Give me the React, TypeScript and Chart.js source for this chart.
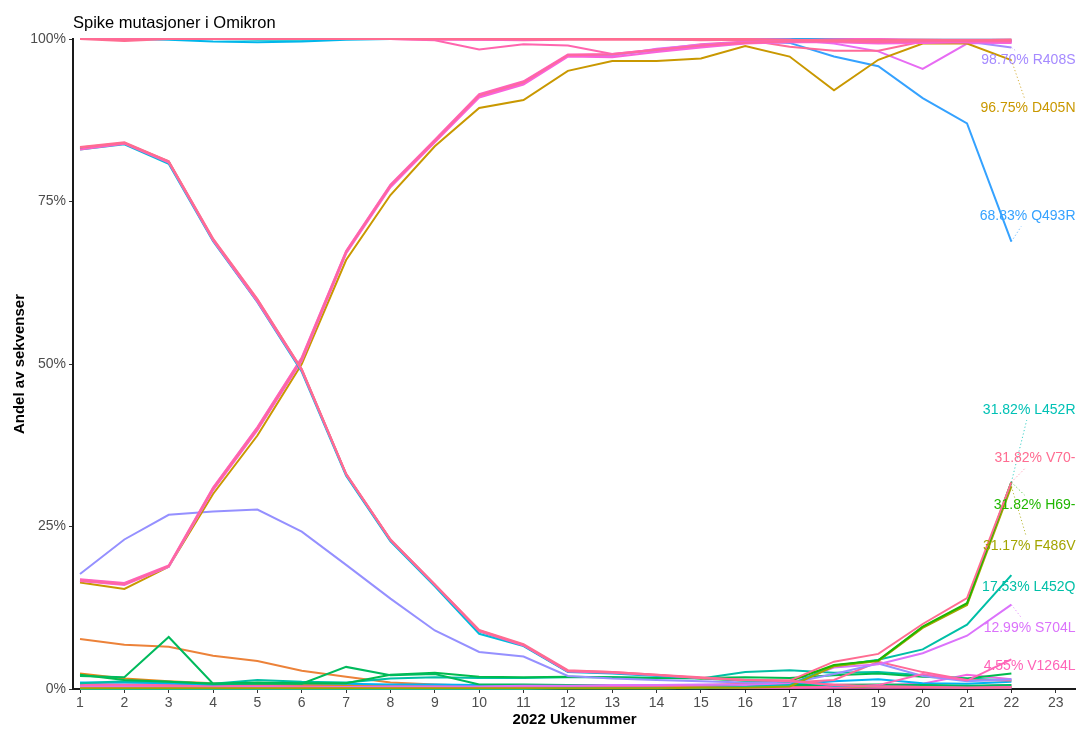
import React, { useEffect, useRef } from "react";
import { Chart, registerables } from "chart.js";

Chart.register(...registerables);

const FONT = '"Liberation Sans", Arial, Helvetica, sans-serif';

const titleText = "Spike mutasjoner i Omikron";
const xTitle = "2022 Ukenummer";
const yTitle = "Andel av sekvenser";

const weeks = [1, 2, 3, 4, 5, 6, 7, 8, 9, 10, 11, 12, 13, 14, 15, 16, 17, 18, 19, 20, 21, 22];
const xTicks = [1, 2, 3, 4, 5, 6, 7, 8, 9, 10, 11, 12, 13, 14, 15, 16, 17, 18, 19, 20, 21, 22, 23];
const yTicks = [0, 25, 50, 75, 100];

// low-level mutations
const v1228l = [0.2, 0.2, 0.2, 0.2, 0.2, 0.2, 0.2, 0.2, 0.2, 0.2, 0.2, 0.2, 0.2, 0.2, 0.2, 0.2, 0.2, 0.2, 0.2, 0.2, 0.2, 0.2];
const v1176f = [0.6, 0.5, 0.5, 0.4, 0.4, 0.4, 0.4, 0.4, 0.3, 0.3, 0.3, 0.3, 0.3, 0.3, 0.3, 0.3, 0.3, 0.3, 0.3, 0.3, 0.3, 0.3];
const v16f = [0.8, 0.7, 0.7, 0.6, 0.6, 0.5, 0.5, 0.5, 0.5, 0.4, 0.4, 0.5, 0.6, 0.6, 0.5, 0.5, 0.6, 0.7, 0.6, 0.5, 0.4, 0.6];
const t572i = [0.4, 0.4, 0.3, 0.3, 0.3, 0.4, 0.4, 0.5, 0.5, 0.6, 0.5, 0.5, 0.5, 0.5, 0.5, 0.4, 0.4, 0.5, 0.6, 0.8, 2.2, 1.5];
const p1162s = [2.4, 1.6, 1.2, 0.9, 0.8, 0.7, 0.6, 0.6, 0.5, 0.5, 0.5, 0.5, 0.5, 0.5, 0.4, 0.4, 0.4, 0.5, 0.5, 0.6, 0.4, 0.4];
const a701v = [7.7, 6.8, 6.5, 5.1, 4.3, 2.8, 1.9, 1.0, 0.7, 0.5, 0.5, 0.4, 0.4, 0.4, 0.3, 0.3, 0.3, 0.4, 0.3, 0.3, 0.2, 0.3];
const a1087s = [1.0, 1.0, 0.9, 0.7, 0.9, 0.9, 0.8, 0.7, 0.7, 0.6, 0.6, 0.6, 0.6, 0.6, 0.6, 0.7, 0.7, 1.2, 1.5, 0.9, 0.8, 1.1];
const k1191n = [0.9, 1.2, 1.1, 0.8, 1.4, 1.1, 1.0, 1.6, 1.8, 1.7, 1.7, 1.8, 1.8, 1.7, 1.6, 2.6, 2.9, 2.5, 2.6, 2.1, 1.6, 1.3];
const m153t = [2.2, 1.4, 1.1, 0.8, 1.0, 0.9, 0.9, 2.2, 2.5, 1.9, 1.8, 1.9, 1.8, 1.7, 1.7, 1.8, 1.7, 2.1, 2.4, 1.9, 1.6, 2.4];
const i210t = [2.0, 1.8, 8.0, 0.8, 0.8, 0.8, 3.4, 2.1, 2.3, 0.7, 0.7, 0.6, 0.6, 0.6, 0.6, 0.6, 0.6, 0.6, 0.7, 0.6, 0.5, 0.6];
const p1143l = [0.3, 0.3, 0.3, 0.3, 0.3, 0.3, 0.3, 0.3, 0.3, 0.3, 0.4, 0.4, 0.4, 0.5, 0.6, 0.8, 1.0, 1.4, 4.2, 2.6, 1.4, 1.3];
const r346k = [17.7, 23.0, 26.8, 27.3, 27.6, 24.2, 19.1, 13.9, 9.0, 5.7, 5.0, 2.0, 1.6, 1.4, 1.2, 1.0, 0.9, 2.3, 3.9, 2.0, 1.2, 1.5];

// near-fixed mutations
const e484a = [100, 100, 100, 100, 99.9, 99.9, 100, 100, 100, 100, 100, 100, 100, 100, 100, 100, 99.9, 99.9, 99.9, 99.9, 99.9, 99.9];
const k417n = [100, 100, 100, 100, 100, 100, 100, 100, 100, 99.9, 99.8, 99.9, 99.9, 99.9, 99.9, 100, 100, 99.9, 99.9, 99.8, 99.8, 99.9];
const n440k = [100, 100, 100, 100, 100, 100, 100, 100, 99.9, 99.9, 99.9, 100, 100, 100, 100, 100, 100, 100, 100, 99.9, 99.9, 99.9];
const g339d = [100, 100, 99.9, 99.6, 99.5, 99.6, 99.9, 100, 100, 100, 100, 100, 100, 100, 99.9, 100, 100, 99.9, 99.8, 99.8, 99.7, 99.6];
const n679k = [100, 100, 100, 100, 100, 100, 100, 100, 100, 100, 100, 100, 100, 100, 100, 100, 100, 99.8, 99.8, 99.8, 99.7, 99.7];
const p681h = [100, 100, 100, 100, 100, 100, 100, 100, 100, 100, 100, 100, 100, 100, 100, 99.9, 99.9, 99.6, 99.7, 99.7, 99.6, 99.4];
const q498r = [100, 99.7, 100, 100, 100, 100, 100, 100, 100, 100, 100, 100, 100, 100, 100, 100, 99.9, 99.8, 99.8, 99.9, 99.8, 99.9];
const s477n = [100, 100, 100, 100, 100, 100, 100, 100, 99.8, 98.4, 99.2, 99.0, 97.7, 98.4, 99.2, 99.6, 99.8, 99.8, 99.8, 99.7, 99.8, 99.7];
const t478k = [100, 100, 100, 100, 100, 100, 100, 100, 100, 100, 100, 100, 100, 100, 100, 100, 99.9, 99.3, 98.1, 95.4, 99.3, 99.5];
const y505h = [100, 100, 100, 100, 100, 100, 100, 100, 100, 100, 100, 100, 100, 100, 99.8, 99.9, 98.8, 98.2, 98.2, 99.6, 99.8, 99.6];
const q493r = [100, 100, 100, 100, 100, 100, 100, 100, 100, 100, 100, 100, 100, 100, 100, 99.9, 99.4, 97.3, 95.8, 90.9, 87.0, 68.83];

// BA.2 rising
const d405n = [16.4, 15.4, 18.8, 30.0, 39.0, 50.0, 66.0, 76.0, 83.5, 89.4, 90.6, 95.1, 96.6, 96.6, 97.0, 98.9, 97.3, 92.1, 96.8, 99.3, 99.3, 96.75];
const s371f = [16.8, 16.2, 18.9, 30.9, 40.2, 50.9, 67.3, 77.5, 84.4, 91.4, 93.4, 97.5, 97.4, 98.5, 99.1, 99.5, 99.6, 99.7, 99.6, 99.7, 99.7, 99.6];
const r408s = [16.7, 16.1, 18.8, 30.7, 39.9, 50.6, 67.1, 77.3, 84.2, 91.2, 93.2, 97.4, 97.6, 98.2, 98.9, 99.4, 99.5, 99.6, 99.4, 99.5, 99.6, 98.7];
const t376a = [16.6, 16.0, 18.8, 30.6, 39.8, 50.5, 67.0, 77.2, 84.1, 91.0, 93.0, 97.3, 97.2, 98.0, 98.7, 99.3, 99.5, 99.5, 99.3, 99.4, 99.5, 99.4];
const t19i = [16.9, 16.3, 19.0, 31.0, 40.3, 51.0, 67.4, 77.6, 84.5, 91.5, 93.5, 97.6, 97.7, 98.4, 99.0, 99.5, 99.6, 99.7, 99.6, 99.7, 99.8, 99.7];
const v213g = [16.7, 16.1, 18.9, 30.8, 40.0, 50.7, 67.2, 77.4, 84.3, 91.3, 93.3, 97.5, 97.6, 98.3, 99.0, 99.4, 99.6, 99.6, 99.5, 99.6, 99.7, 99.6];

// BA.4/5 rising at the end
const l452q = [0.1, 0.1, 0.1, 0.1, 0.1, 0.1, 0.1, 0.1, 0.1, 0.1, 0.1, 0.1, 0.1, 0.1, 0.2, 0.3, 0.5, 3.5, 4.5, 6.1, 9.9, 17.53];
const s704l = [0.3, 0.3, 0.2, 0.2, 0.3, 0.2, 0.3, 0.4, 0.4, 0.4, 0.5, 0.5, 0.6, 0.6, 0.7, 0.6, 0.8, 3.3, 3.8, 5.5, 8.2, 12.99];
const v1264l = [0.2, 0.2, 0.2, 0.2, 0.2, 0.2, 0.2, 0.2, 0.2, 0.2, 0.2, 0.2, 0.2, 0.2, 0.2, 0.2, 0.2, 0.3, 0.6, 2.3, 1.3, 4.55];
const l452r = [0.0, 0.0, 0.0, 0.0, 0.0, 0.0, 0.0, 0.0, 0.0, 0.0, 0.0, 0.1, 0.1, 0.1, 0.1, 0.3, 0.6, 3.6, 4.4, 9.5, 13.1, 31.82];
const f486v = [0.1, 0.1, 0.1, 0.1, 0.1, 0.1, 0.1, 0.1, 0.1, 0.1, 0.1, 0.1, 0.1, 0.1, 0.2, 0.2, 0.4, 3.5, 4.3, 9.4, 12.9, 31.17];

// BA.1 falling
const h69del = [83.2, 84.0, 81.1, 69.1, 59.8, 49.1, 33.0, 22.9, 16.0, 8.9, 6.7, 2.7, 2.5, 2.1, 1.6, 1.3, 1.2, 3.7, 4.4, 9.6, 13.2, 31.82];
const g446s = [83.0, 83.8, 80.8, 68.9, 59.5, 48.8, 32.8, 22.7, 15.8, 8.5, 6.6, 2.6, 2.4, 2.0, 1.7, 1.3, 1.2, 0.5, 0.4, 0.3, 0.2, 0.2];
const t95i = [83.0, 83.9, 81.0, 69.0, 59.6, 49.0, 33.0, 22.9, 16.0, 8.9, 6.7, 2.7, 2.5, 2.1, 1.7, 1.4, 1.2, 0.6, 0.4, 0.3, 0.2, 0.3];
const a67v = [83.3, 84.0, 81.2, 69.2, 59.9, 49.2, 33.1, 23.0, 16.1, 9.0, 6.8, 2.8, 2.6, 2.2, 1.8, 1.4, 1.3, 0.6, 0.4, 0.3, 0.2, 0.2];
const v70del = [83.4, 84.1, 81.2, 69.3, 60.0, 49.2, 33.1, 23.0, 16.1, 9.1, 6.9, 2.9, 2.6, 2.2, 1.7, 1.4, 1.3, 4.2, 5.4, 10.0, 14.0, 31.82];

// drawing order: first entry at the bottom
const series = [
  { name: "E484A", color: "#00BFC4", data: e484a },
  { name: "K417N", color: "#FF6C91", data: k417n },
  { name: "N440K", color: "#FF61C3", data: n440k },
  { name: "V1228L", color: "#FF61C9", data: v1228l },
  { name: "V1176F", color: "#FF6C91", data: v1176f },
  { name: "V16F", color: "#FF67A4", data: v16f },
  { name: "T572I", color: "#F564E3", data: t572i },
  { name: "P1162S", color: "#E7861B", data: p1162s },
  { name: "A701V", color: "#EC8239", data: a701v },
  { name: "A1087S", color: "#00B2F3", data: a1087s },
  { name: "K1191N", color: "#00BFA4", data: k1191n },
  { name: "M153T", color: "#00BB4E", data: m153t },
  { name: "I210T", color: "#00BA5C", data: i210t },
  { name: "P1143L", color: "#FF6A98", data: p1143l },
  { name: "R346K", color: "#9590FF", data: r346k },
  { name: "G339D", color: "#00B6EB", data: g339d },
  { name: "N679K", color: "#06A4FF", data: n679k },
  { name: "P681H", color: "#B983FF", data: p681h },
  { name: "Q493R", color: "#35A2FF", data: q493r },
  { name: "T478K", color: "#E76BF3", data: t478k },
  { name: "S477N", color: "#FF65AE", data: s477n },
  { name: "Y505H", color: "#FF6A98", data: y505h },
  { name: "D405N", color: "#C99800", data: d405n },
  { name: "S371F", color: "#DB72FB", data: s371f },
  { name: "R408S", color: "#A58AFF", data: r408s },
  { name: "T376A", color: "#FA62DB", data: t376a },
  { name: "T19I", color: "#FF62BC", data: t19i },
  { name: "V213G", color: "#FF689F", data: v213g },
  { name: "L452Q", color: "#00BFA7", data: l452q },
  { name: "S704L", color: "#DB72FB", data: s704l },
  { name: "V1264L", color: "#FF64B8", data: v1264l },
  { name: "L452R", color: "#00C1B5", data: l452r },
  { name: "F486V", color: "#A3A500", data: f486v },
  { name: "H69-", color: "#1FB700", data: h69del },
  { name: "G446S", color: "#00BBDA", data: g446s },
  { name: "T95I", color: "#FF61C3", data: t95i },
  { name: "A67V", color: "#FF6A98", data: a67v },
  { name: "V70-", color: "#FF6C91", data: v70del },
  { name: "Q498R", color: "#FF6C91", data: q498r },
];

const labelNames = ["R408S", "D405N", "Q493R", "L452R", "V70-", "H69-", "F486V", "L452Q", "S704L", "V1264L"];
const labelAt = [96.7, 89.3, 72.7, 42.9, 35.5, 28.3, 21.95, 15.7, 9.3, 3.5];

const endLabelPlugin = {
  id: "endLabels",
  afterDatasetsDraw(chart: any) {
    const { ctx } = chart;
    const xs = chart.scales.x;
    const ys = chart.scales.y;
    ctx.save();
    ctx.font = `14px ${FONT}`;
    ctx.textBaseline = "middle";
    ctx.textAlign = "right";
    const right = chart.width - 0.5;
    labelNames.forEach((name, i) => {
      const s = series.find((d) => d.name === name);
      if (!s) return;
      const li = s.data.length - 1;
      const last = s.data[li];
      const px = xs.getPixelForValue(weeks[li]);
      const py = ys.getPixelForValue(last);
      const text = `${last.toFixed(2)}% ${name}`;
      const w = ctx.measureText(text).width;
      const cy = ys.getPixelForValue(labelAt[i]);
      const pad = 2;
      const bl = right - w - pad;
      const br = right + pad;
      const bt = cy - 8 - pad;
      const bb = cy + 8 + pad;
      const cx = right - w / 2;
      const dx = cx - px;
      const dy = cy - py;
      let tEnter = -Infinity;
      if (dx !== 0) {
        const t1 = (bl - px) / dx;
        const t2 = (br - px) / dx;
        tEnter = Math.max(tEnter, Math.min(t1, t2));
      }
      if (dy !== 0) {
        const t1 = (bt - py) / dy;
        const t2 = (bb - py) / dy;
        tEnter = Math.max(tEnter, Math.min(t1, t2));
      }
      if (tEnter > 0 && tEnter < 1) {
        const ex = px + dx * tEnter;
        const ey = py + dy * tEnter;
        if (Math.hypot(ex - px, ey - py) > 4) {
          ctx.save();
          ctx.strokeStyle = s.color;
          ctx.globalAlpha = 0.75;
          ctx.lineWidth = 1;
          ctx.setLineDash([1.2, 2.3]);
          ctx.beginPath();
          ctx.moveTo(px, py);
          ctx.lineTo(ex, ey);
          ctx.stroke();
          ctx.restore();
        }
      }
      ctx.fillStyle = s.color;
      ctx.fillText(text, right, cy);
    });
    ctx.restore();
  },
  afterDraw(chart: any) {
    const { ctx } = chart;
    ctx.save();
    ctx.font = `16.5px ${FONT}`;
    ctx.fillStyle = "#000000";
    ctx.textAlign = "left";
    ctx.textBaseline = "alphabetic";
    ctx.fillText(titleText, chart.chartArea.left, 28);
    ctx.restore();
  },
};

export default function App() {
  const ref = useRef<HTMLCanvasElement>(null);
  useEffect(() => {
    document.body.style.margin = "0";
    const canvas = ref.current;
    if (!canvas) return;
    const chart = new Chart(canvas, {
      type: "line",
      data: {
        datasets: series.map((s, i) => ({
          label: s.name,
          data: s.data.map((v, j) => ({ x: weeks[j], y: v })),
          borderColor: s.color,
          backgroundColor: s.color,
          borderWidth: 2,
          pointRadius: 0,
          pointHoverRadius: 0,
          fill: false,
          tension: 0,
          order: -i,
          clip: { left: 1, top: 2, right: 1, bottom: 1 },
        })),
      },
      options: {
        animation: false,
        responsive: false,
        devicePixelRatio: 1,
        events: [],
        layout: { padding: { top: 39, left: 0, right: 0, bottom: 0 } },
        plugins: {
          legend: { display: false },
          tooltip: { enabled: false },
          title: { display: false },
        },
        scales: {
          x: {
            type: "linear",
            min: 0.842,
            max: 23.457,
            z: 1,
            afterBuildTicks: (scale: any) => {
              scale.ticks = xTicks.map((v) => ({ value: v }));
            },
            afterFit: (scale: any) => {
              scale.height = 40;
            },
            ticks: {
              autoSkip: false,
              maxRotation: 0,
              padding: 2,
              color: "#4D4D4D",
              font: { family: FONT, size: 14 },
              callback: (v: any) => String(v),
            },
            grid: {
              display: true,
              drawOnChartArea: false,
              drawTicks: true,
              tickLength: 4,
              color: "#333333",
              lineWidth: 1,
            },
            border: { display: true, color: "#1A1A1A", width: 2 },
            title: {
              display: true,
              text: xTitle,
              color: "#000000",
              font: { family: FONT, size: 15, weight: "bold" },
              padding: { top: 0, bottom: 0 },
            },
          },
          y: {
            type: "linear",
            min: 0,
            max: 100,
            z: 1,
            afterBuildTicks: (scale: any) => {
              scale.ticks = yTicks.map((v) => ({ value: v }));
            },
            afterFit: (scale: any) => {
              scale.width = 73;
            },
            ticks: {
              padding: 3,
              color: "#4D4D4D",
              font: { family: FONT, size: 14 },
              callback: (v: any) => `${v}%`,
            },
            grid: {
              display: true,
              drawOnChartArea: false,
              drawTicks: true,
              tickLength: 4,
              color: "#333333",
              lineWidth: 1,
            },
            border: { display: true, color: "#1A1A1A", width: 2 },
            title: {
              display: true,
              text: yTitle,
              color: "#000000",
              font: { family: FONT, size: 15, weight: "bold" },
              padding: { top: 10.5, bottom: 0 },
            },
          },
        },
      },
      plugins: [endLabelPlugin],
    } as any);
    return () => chart.destroy();
  }, []);
  return (
    <div style={{ width: 1076, height: 729 }}>
      <canvas ref={ref} width={1076} height={729} style={{ display: "block" }} />
    </div>
  );
}
